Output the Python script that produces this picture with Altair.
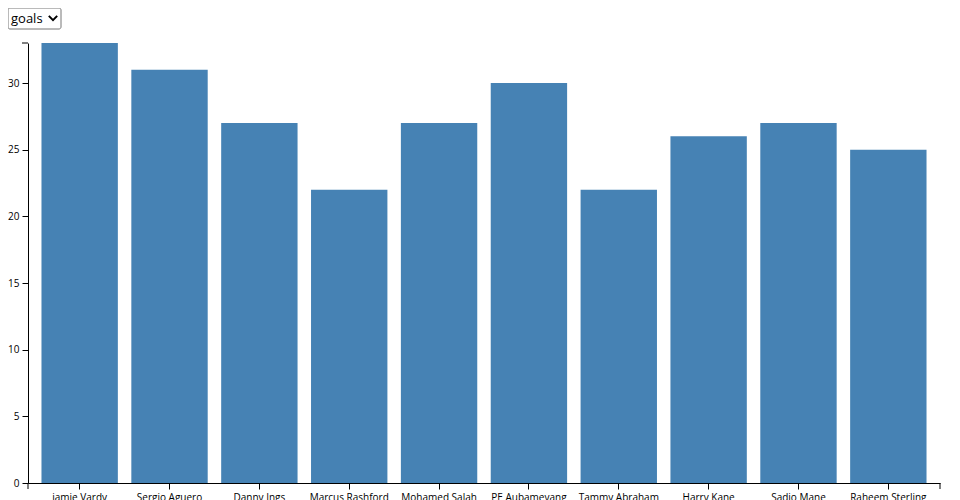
import altair as alt
import pandas as pd

players = ["jamie Vardy", "Sergio Aguero", "Danny Ings", "Marcus Rashford", "Mohamed Salah",
           "PE Aubameyang", "Tammy Abraham", "Harry Kane", "Sadio Mane", "Raheem Sterling"]
goals = [33, 31, 27, 22, 27, 30, 22, 26, 27, 25]
y_ticks = [0, 5, 10, 15, 20, 25, 30]
select_options = ["goals"]

df = pd.DataFrame({"player": players, "goals": goals})
df_sel = pd.DataFrame({"option": select_options})
one = pd.DataFrame({"k": [0]})

W, H = 912, 440
PL = 20
yscale = alt.Scale(domain=[0, max(goals)], nice=False, zero=True)

bars = alt.Chart(df).mark_bar(color="steelblue").encode(
    x=alt.X("player:N", sort=None, title=None,
            scale=alt.Scale(paddingInner=0.15, paddingOuter=0.15),
            axis=alt.Axis(labelAngle=0, grid=False)),
    y=alt.Y("goals:Q", title=None, scale=yscale,
            axis=alt.Axis(values=y_ticks, grid=False)),
)

outer_y = alt.Chart(one).mark_rule(color="black").encode(
    y=alt.datum(max(goals), type="quantitative", scale=yscale),
    x=alt.value(-6), x2=alt.value(0),
)
outer_x0 = alt.Chart(one).mark_rule(color="black").encode(
    x=alt.value(0), y=alt.value(H), y2=alt.value(H + 6))
outer_x1 = alt.Chart(one).mark_rule(color="black").encode(
    x=alt.value(W), y=alt.value(H), y2=alt.value(H + 6))

sel_box = alt.Chart(df_sel).mark_rect(fill="white", stroke="#767676", strokeWidth=1,
                                      cornerRadius=2).encode(
    x=alt.value(-PL), x2=alt.value(-PL + 53), y=alt.value(-35), y2=alt.value(-14))
sel_text = alt.Chart(df_sel).mark_text(align="left", baseline="alphabetic", font="Open Sans",
                                       fontSize=13, color="black").encode(
    x=alt.value(-PL + 3), y=alt.value(-20), text="option:N")
sel_chev = alt.Chart(df_sel).mark_point(shape="M-1,-0.5L0,0.5L1,-0.5", filled=False,
                                        strokeWidth=2, size=70, color="black", opacity=1).encode(
    x=alt.value(-PL + 45), y=alt.value(-25))

chart = alt.layer(bars, outer_y, outer_x0, outer_x1, sel_box, sel_text, sel_chev).properties(
    width=W, height=H,
    padding={"left": PL, "top": 35, "right": 8, "bottom": 17},
    autosize=alt.AutoSizeParams(type="none"),
).configure_view(stroke=None).configure_axis(
    labelFont="Open Sans", labelFontSize=10, labelColor="black",
    tickColor="black", domainColor="black", tickSize=6, labelPadding=3,
)

chart.save("out.html", embed_options={"renderer": "svg", "actions": False})
